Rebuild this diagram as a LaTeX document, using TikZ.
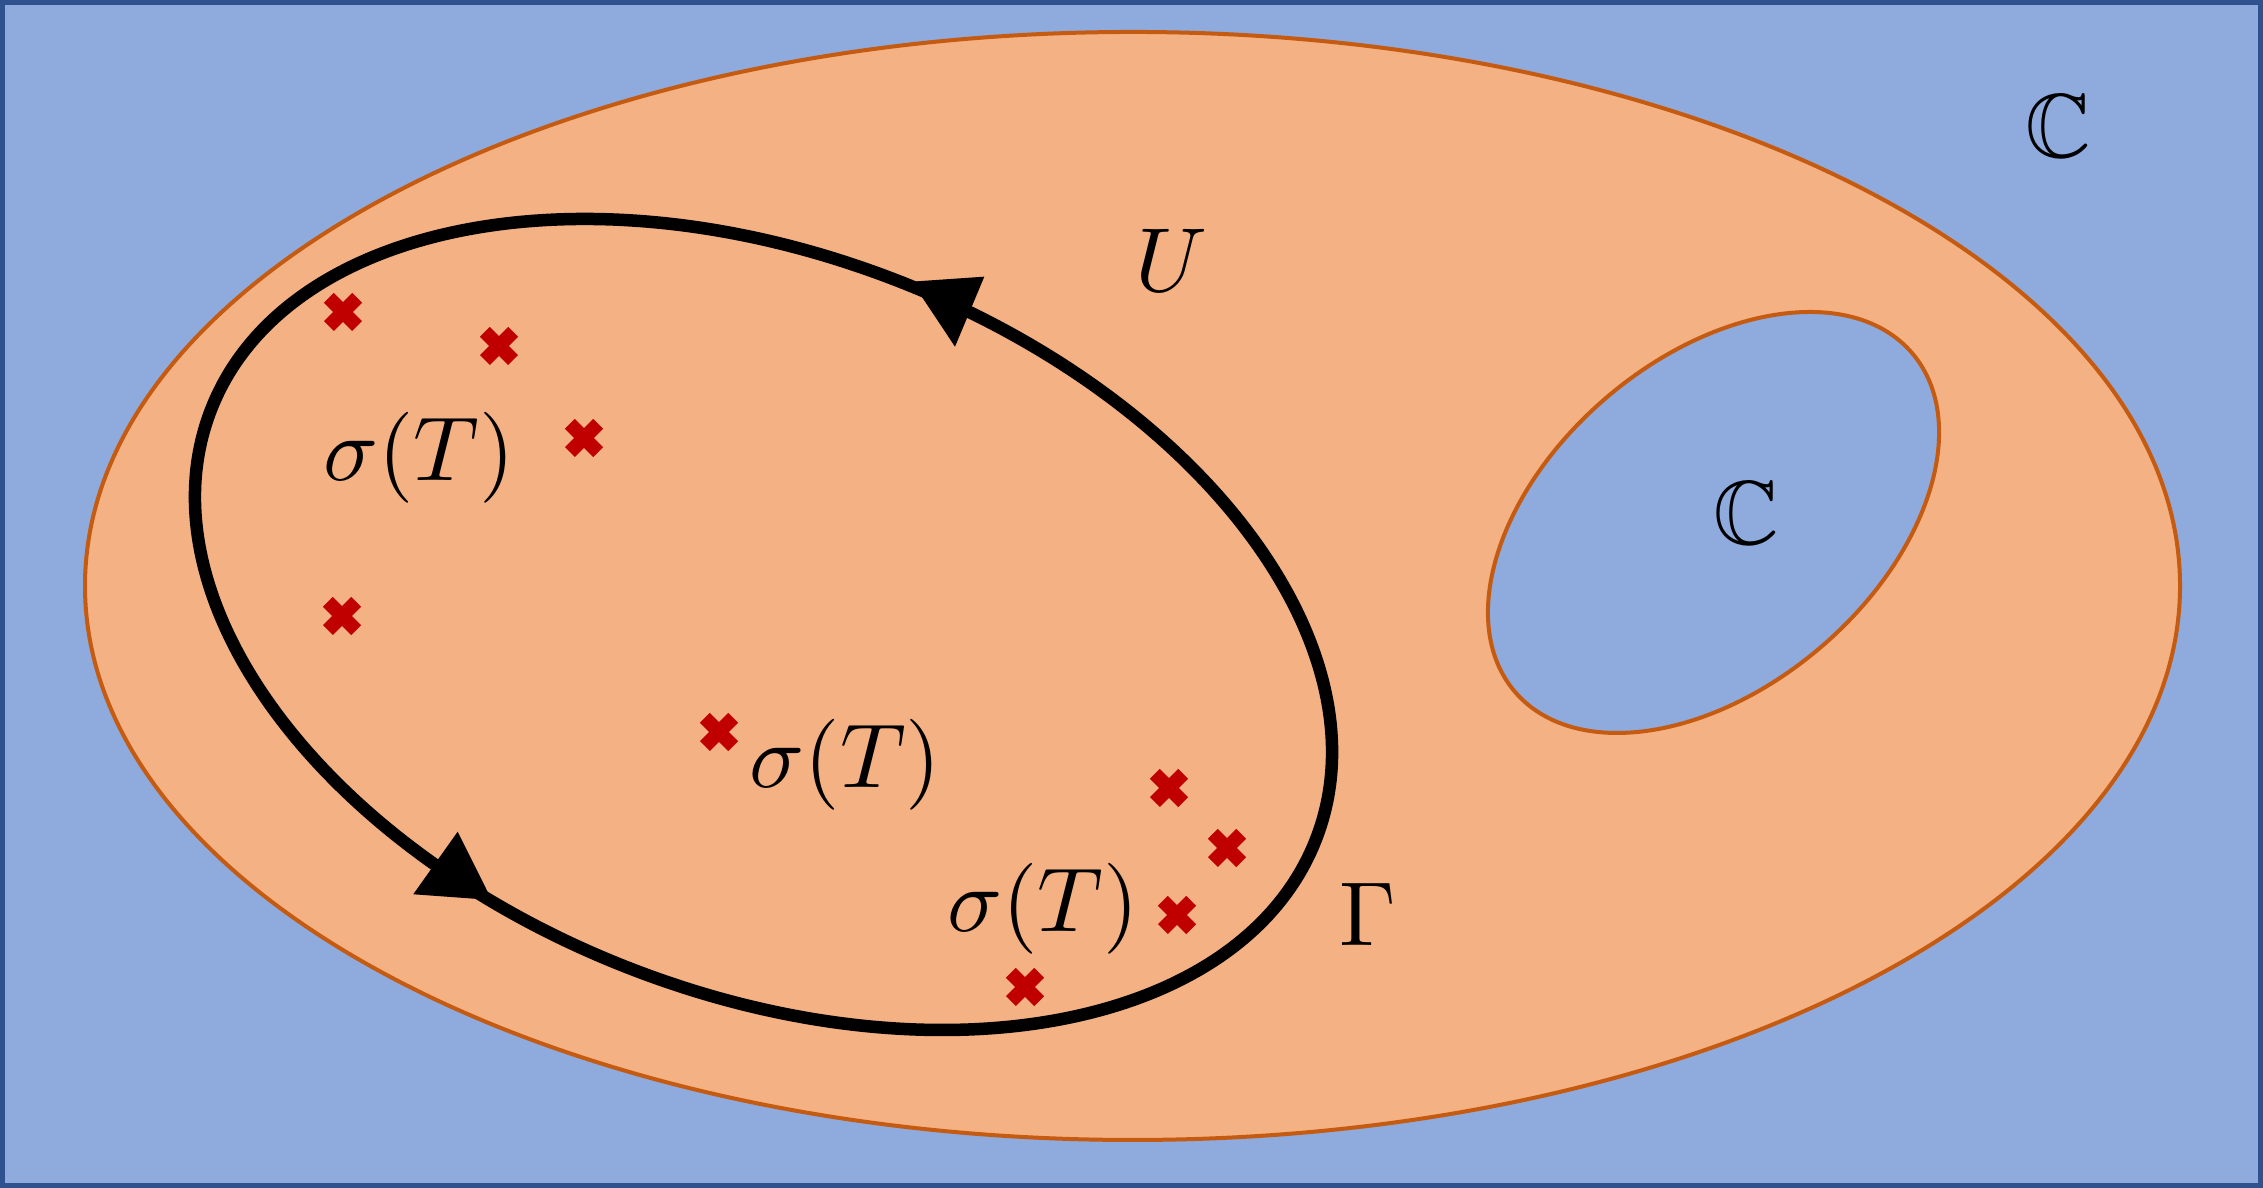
\documentclass[tikz,border=0pt]{standalone}
\usepackage{amssymb}
\definecolor{bgblue}{HTML}{8FAADC}
\definecolor{frameblue}{HTML}{2F528F}
\definecolor{regionorange}{HTML}{F4B183}
\definecolor{edgeorange}{HTML}{C55A11}
\definecolor{crossred}{HTML}{C00000}
\begin{document}
\begin{tikzpicture}[x=0.11pt,y=0.11pt,
  lbl/.style={inner sep=0pt, outer sep=0pt},
  regionedge/.style={draw=edgeorange, line width=0.44pt},
  contour/.style={draw=black, line width=1.375pt},
  tiphead/.style={fill=black},
  xmk/.pic={\draw[crossred, line width=1.54pt] (-14.14,-14.14) -- (14.14,14.14) (-14.14,14.14) -- (14.14,-14.14);}]
\useasboundingbox (0,0) rectangle (2263,1188);
% plane C
\filldraw[fill=bgblue, draw=frameblue, line width=0.55pt] (2.5,2.5) rectangle (2260.5,1185.5);
% region U
\filldraw[regionedge, fill=regionorange] (1132.5,602) ellipse [x radius=1047.5, y radius=554];
% hole
\filldraw[regionedge, fill=bgblue, rotate around={40.4:(1713.5,665.5)}] (1713.5,665.5) ellipse [x radius=261, y radius=164.5];
% contour Gamma
\draw[contour, rotate around={-21.24:(763.5,563.5)}] (763.5,563.5) ellipse [x radius=592.8, y radius=369];
\fill[tiphead] (911.7,906.3) -- (984.3,911.3) -- (955,841.3) -- cycle;
\fill[tiphead] (413.3,293.7) -- (457.7,356.3) -- (491.7,288) -- cycle;
% spectrum points
\pic (p1) at (343,876) {xmk};
\pic (p2) at (499,842) {xmk};
\pic (p3) at (584,750) {xmk};
\pic (p4) at (342,572) {xmk};
\pic (p5) at (719,456) {xmk};
\pic (p6) at (1169,400) {xmk};
\pic (p7) at (1227,340) {xmk};
\pic (p8) at (1177,273) {xmk};
\pic (p9) at (1025,201) {xmk};
% labels
\node[lbl] (s1) at (419,730) {$\sigma(T)$};
\node[lbl] (s2) at (845.5,423) {$\sigma(T)$};
\node[lbl] (s3) at (1043,279) {$\sigma(T)$};
\node[lbl] (u) at (1171,928) {$U$};
\node[lbl] (g) at (1368,274) {$\Gamma$};
\node[lbl] (c1) at (1746,675) {$\mathbb{C}$};
\node[lbl] (c2) at (2058,1062) {$\mathbb{C}$};
\end{tikzpicture}
\end{document}
